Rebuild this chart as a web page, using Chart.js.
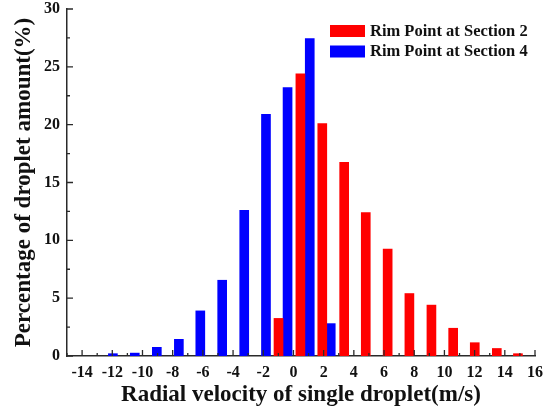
<!DOCTYPE html>
<html>
<head>
<meta charset="utf-8">
<script src="https://cdn.jsdelivr.net/npm/chart.js@4/dist/chart.umd.min.js"></script>
<style>
  html, body { margin: 0; padding: 0; background: #fff; }
  #wrap { width: 551px; height: 413px; }
</style>
</head>
<body>
<div id="wrap"><canvas id="chart"></canvas></div>
<script>
// values
const seriesNames = ["Rim Point at Section 2", "Rim Point at Section 4"];
const redX = [-0.99, 0.46, 1.91, 3.36, 4.79, 6.24, 7.68, 9.14, 10.58, 12.01, 13.47, 14.87];
const redY = [3.25, 24.4, 20.1, 16.75, 12.4, 9.25, 5.4, 4.4, 2.4, 1.15, 0.65, 0.2];
const blueX = [-11.96, -10.51, -9.05, -7.59, -6.17, -4.72, -3.26, -1.82, -0.39, 1.08, 2.47];
const blueY = [0.2, 0.25, 0.75, 1.44, 3.9, 6.55, 12.6, 20.9, 23.2, 27.45, 2.8];
const xTicks = [-14, -12, -10, -8, -6, -4, -2, 0, 2, 4, 6, 8, 10, 12, 14, 16];
const yTicks = [0, 5, 10, 15, 20, 25, 30];

const colors = ["#ff0000", "#0000ff"];
const serif = "'Liberation Serif', 'Times New Roman', serif";
const axisColor = "#2a2a2a";

function toPoints(xs, ys) {
  return xs.map((x, i) => ({ x: x, y: ys[i] }));
}

// inward major/minor ticks like the original plot
const innerTicks = {
  id: "innerTicks",
  afterDraw(chart) {
    const ctx = chart.ctx;
    const xs = chart.scales.x, ys = chart.scales.y;
    const x0 = xs.left, y0 = ys.bottom;
    ctx.save();
    ctx.strokeStyle = axisColor;
    ctx.lineWidth = 1.3;
    ctx.beginPath();
    for (let v = -15; v <= 16; v++) {
      const px = xs.getPixelForValue(v);
      const len = v % 2 === 0 ? 6 : 3;
      ctx.moveTo(px, y0);
      ctx.lineTo(px, y0 - len);
    }
    for (let v = 0; v <= 30; v += 2.5) {
      const py = ys.getPixelForValue(v);
      const len = v % 5 === 0 ? 6 : 3;
      ctx.moveTo(x0, py);
      ctx.lineTo(x0 + len, py);
    }
    ctx.stroke();
    ctx.restore();
  }
};

// legend box in the top right corner
const cornerLegend = {
  id: "cornerLegend",
  afterDraw(chart) {
    const ctx = chart.ctx;
    ctx.save();
    ctx.font = "bold 16.5px " + serif;
    ctx.textBaseline = "middle";
    chart.data.datasets.forEach((ds, i) => {
      const top = 25 + i * 20.5;
      ctx.fillStyle = ds.backgroundColor;
      ctx.fillRect(330, top, 35, 12);
      ctx.fillStyle = "#111";
      ctx.fillText(ds.label, 370, top + 6.5);
    });
    ctx.restore();
  }
};

new Chart(document.getElementById("chart"), {
  type: "bar",
  data: {
    datasets: [
      { label: seriesNames[0], data: toPoints(redX, redY), backgroundColor: colors[0] },
      { label: seriesNames[1], data: toPoints(blueX, blueY), backgroundColor: colors[1] }
    ]
  },
  options: {
    responsive: true,
    maintainAspectRatio: false,
    animation: false,
    devicePixelRatio: 1,
    layout: { padding: { left: 6, top: 9, right: 16, bottom: 0 } },
    datasets: { bar: { grouped: false, barThickness: 9, borderWidth: 0 } },
    plugins: { legend: { display: false }, tooltip: { enabled: false } },
    scales: {
      x: {
        type: "linear",
        min: -15,
        max: 16,
        offset: false,
        afterBuildTicks: s => { s.ticks = xTicks.map(v => ({ value: v })); },
        afterFit: s => { s.height = 57; s.paddingLeft = 0; s.paddingRight = 0; },
        grid: { display: false, drawTicks: false, tickLength: 0 },
        border: { display: true, color: axisColor, width: 1.5 },
        ticks: { color: "#111", padding: 7, maxRotation: 0, font: { family: serif, size: 16, weight: "bold" } },
        title: { display: true, text: "Radial velocity of single droplet(m/s)", color: "#111", font: { family: serif, size: 23, weight: "bold" } }
      },
      y: {
        min: 0,
        max: 30,
        afterBuildTicks: s => { s.ticks = yTicks.map(v => ({ value: v })); },
        afterFit: s => { s.width = 61; s.paddingTop = 0; s.paddingBottom = 0; },
        grid: { display: false, drawTicks: false, tickLength: 0 },
        border: { display: true, color: axisColor, width: 1.5 },
        ticks: { color: "#111", padding: 7, font: { family: serif, size: 16, weight: "bold" } },
        title: { display: true, text: "Percentage of droplet amount(%)", color: "#111", font: { family: serif, size: 23, weight: "bold" } }
      }
    }
  },
  plugins: [innerTicks, cornerLegend]
});
</script>
</body>
</html>
